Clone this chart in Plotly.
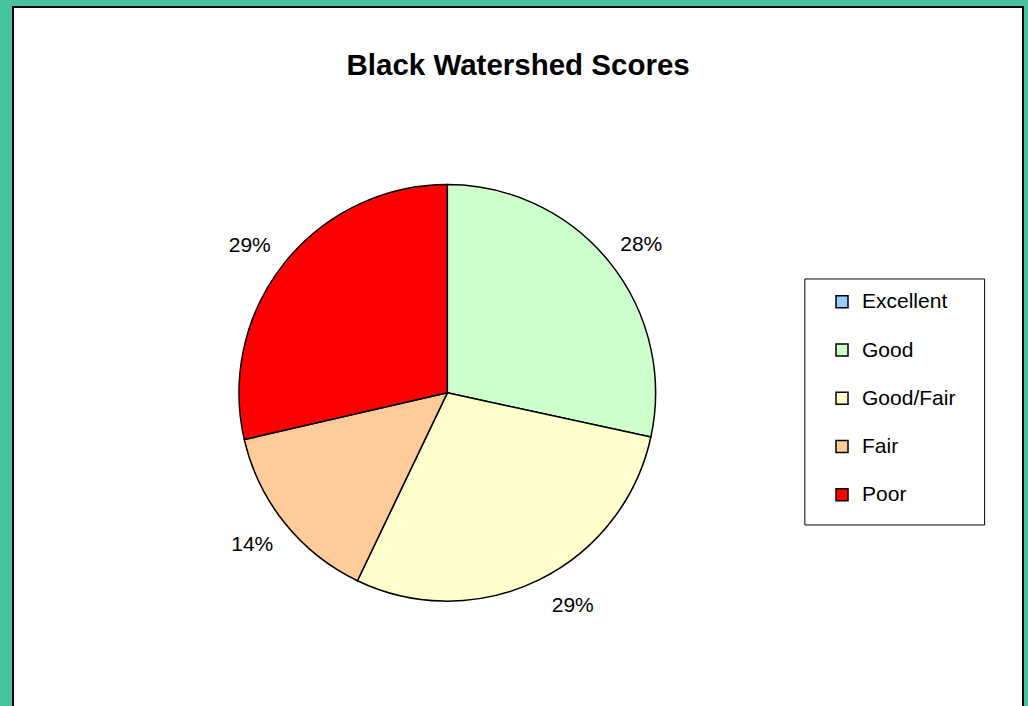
import plotly.graph_objects as go

categories = ["Excellent", "Good", "Good/Fair", "Fair", "Poor"]
values = [0, 28.4, 28.7, 14.3, 28.6]
colors = ["#99CCFF", "#CCFFCC", "#FFFFCC", "#FFCC99", "#FF0000"]
label_pos = ["none", "outside", "outside", "outside", "outside"]

FONT = "Liberation Sans, Arial, sans-serif"

# invisible spacer glyphs that push the outside percentage labels a bit further out
PAD_BELOW = "<span style='font-size:10px;baseline-shift:-22px'>\u00a0</span>"
PAD_ABOVE_A = "<span style='font-size:10px;baseline-shift:27px'>\u00a0</span>"
PAD_ABOVE_B = "<span style='font-size:10px;baseline-shift:33px'>\u00a0</span>"
PCT = "%{percent:.0%}"
text_templates = ["", PCT + PAD_BELOW, PAD_ABOVE_A + PCT, PAD_ABOVE_B + PCT, PCT + PAD_BELOW]

# legend entries: visible text inside a tall legend line for Excel-like spacing
legend_names = [
    "<span style='font-size:21px;baseline-shift:7px'>%s</span>" % c for c in categories
]

fig = go.Figure()
fig.add_trace(go.Pie(
    labels=legend_names,
    values=values,
    sort=False,
    direction="clockwise",
    rotation=0,
    marker=dict(colors=colors, line=dict(color="black", width=1.5)),
    texttemplate=text_templates,
    textposition=label_pos,
    outsidetextfont=dict(family=FONT, size=21, color="black"),
    domain=dict(x=[0.2, 0.66], y=[0.150, 0.746]),
    hoverinfo="percent",
    showlegend=True,
))

fig.update_layout(
    width=1028, height=706,
    margin=dict(l=13, r=5, t=7, b=0),
    paper_bgcolor="#45C49E",
    title=dict(text="<b>Black Watershed Scores</b>", x=0.504, xanchor="center",
               y=0.908, yanchor="middle",
               font=dict(family=FONT, size=29.5, color="black")),
    legend=dict(
        x=0.801, y=0.62, xanchor="left", yanchor="top",
        font=dict(family=FONT, size=34.8, color="black"),
        bgcolor="rgba(0,0,0,0)", borderwidth=0,
    ),
    shapes=[
        dict(type="rect", xref="paper", yref="paper", x0=0, x1=1, y0=-0.02, y1=1,
             fillcolor="white", line=dict(color="black", width=2), layer="below"),
        dict(type="rect", xref="paper", yref="paper", x0=0.784, x1=0.962,
             y0=0.259, y1=0.6109, fillcolor="rgba(0,0,0,0)",
             line=dict(color="black", width=1), layer="above"),
    ],
)

fig.write_html("out.html", config={"displayModeBar": False},
               post_script="document.body.style.margin='0';")
